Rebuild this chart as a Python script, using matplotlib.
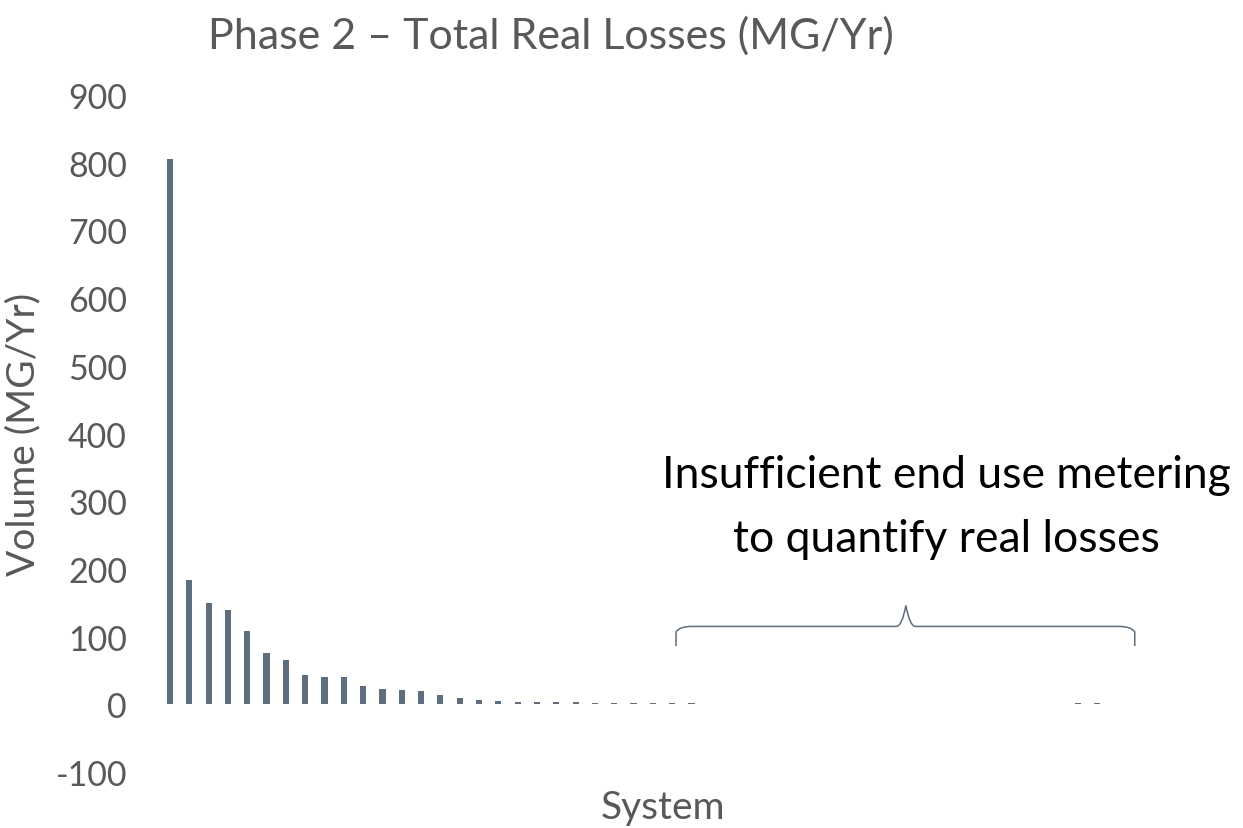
import matplotlib
matplotlib.use("Agg")
import matplotlib.pyplot as plt
from matplotlib.path import Path
from matplotlib.patches import PathPatch

# values, one per system (MG/Yr)
losses = [805, 183, 150, 140, 108, 76, 65, 43, 41, 40,
          27, 22, 21, 20, 14, 9, 7, 4.5, 4, 3,
          2.8, 2.8, 2.6, 2.6, 2.5, 2.5, 2.3, 2.2, 1, 0,
          0, 0, 0, 0, 0, 0, 0, 0, 0, 0,
          0, 0, 0, 0, 0, 0, 1, 1.5, 1.5, 0,
          0, 0]
systems = list(range(len(losses)))
yticks = list(range(-100, 1000, 100))

bar_color = "#5f6e7c"
text_gray = "#595959"
font = "Lato"

fig = plt.figure(figsize=(12.43, 8.29), dpi=100)
ax = fig.add_axes([0.129, 0.0676, 0.808, 0.8165])

ax.bar(systems, losses, width=0.32, color=bar_color, linewidth=0)
ax.set_xlim(-0.5, len(losses) - 0.5)
ax.set_ylim(-100, 900)
ax.set_yticks(yticks)
ax.set_yticklabels([str(v) for v in yticks], fontsize=24.5, color=text_gray, family=font)
ax.set_xticks([])
ax.tick_params(axis="y", length=0, pad=24)
for s in ax.spines.values():
    s.set_visible(False)

ax.set_xlabel("System", fontsize=28, color=text_gray, family=font, labelpad=12)
ax.set_ylabel("Volume (MG/Yr)", fontsize=28, color=text_gray, family=font, labelpad=10)
fig.text(0.443, 0.957, "Phase 2 \u2013 Total Real Losses (MG/Yr)", ha="center", va="center",
         fontsize=31, color=text_gray, family=font)

# curly brace over the unmetered systems
x0, x1, xm = 26.2, 49.95, 38.1
yb, yl, yt = 86, 115, 146
verts = [(x0, yb), (x0, yl - 8), (x0 + 0.2, yl), (x0 + 0.8, yl),
         (xm - 0.5, yl), (xm - 0.2, yl), (xm, yt), (xm, yt),
         (xm, yt), (xm + 0.2, yl), (xm + 0.5, yl),
         (x1 - 0.8, yl), (x1 - 0.2, yl), (x1, yl - 8), (x1, yb)]
codes = [Path.MOVETO, Path.LINETO, Path.CURVE3, Path.CURVE3,
         Path.LINETO, Path.CURVE3, Path.CURVE3, Path.LINETO,
         Path.LINETO, Path.CURVE3, Path.CURVE3,
         Path.LINETO, Path.CURVE3, Path.CURVE3, Path.LINETO]
ax.add_patch(PathPatch(Path(verts, codes), fill=False, edgecolor=bar_color, linewidth=1.1))

ax.text(40.2, 292, "Insufficient end use metering\nto quantify real losses", ha="center", va="center",
        fontsize=32, color="black", family=font, linespacing=1.7)

fig.savefig("out.png", dpi=100)
